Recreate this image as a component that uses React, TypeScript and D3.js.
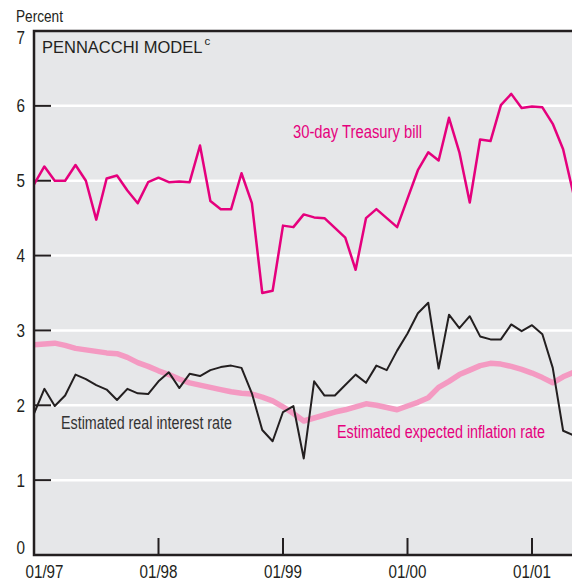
import * as d3 from 'd3'

// monthly observations, 01/1997 .. 05/2001
const TBILL = [
  4.95, 5.19, 5.0, 5.0, 5.21, 5.0, 4.48, 5.03, 5.07, 4.87, 4.7, 4.98,
  5.04, 4.98, 4.99, 4.98, 5.47, 4.73, 4.62, 4.62, 5.1, 4.7, 3.5, 3.53,
  4.4, 4.38, 4.55, 4.51, 4.5, 4.37, 4.24, 3.81, 4.5, 4.62, 4.5, 4.38,
  4.76, 5.14, 5.38, 5.27, 5.84, 5.38, 4.71, 5.55, 5.53, 6.01, 6.16, 5.97,
  5.99, 5.98, 5.76, 5.42, 4.82
]

const REAL_RATE = [
  1.89, 2.22, 1.99, 2.13, 2.41, 2.35, 2.27, 2.21, 2.07, 2.22, 2.16, 2.15,
  2.32, 2.44, 2.23, 2.42, 2.39, 2.47, 2.51, 2.53, 2.5, 2.16, 1.67, 1.52,
  1.91, 1.99, 1.29, 2.32, 2.13, 2.13, 2.27, 2.41, 2.3, 2.53, 2.47, 2.73,
  2.96, 3.23, 3.37, 2.49, 3.21, 3.03, 3.19, 2.92, 2.88, 2.88, 3.08, 2.99,
  3.07, 2.95, 2.5, 1.66, 1.6
]

const EXP_INFLATION = [
  2.81, 2.82, 2.83, 2.8, 2.76, 2.74, 2.72, 2.7, 2.69, 2.64, 2.57, 2.52,
  2.46, 2.41, 2.35, 2.3, 2.27, 2.24, 2.21, 2.18, 2.16, 2.15, 2.11, 2.06,
  1.98, 1.89, 1.79, 1.83, 1.87, 1.91, 1.94, 1.98, 2.02, 2.0, 1.97, 1.94,
  1.99, 2.04, 2.1, 2.24, 2.32, 2.41, 2.47, 2.53, 2.56, 2.55, 2.52, 2.48,
  2.43, 2.37, 2.3, 2.38, 2.44
]

const X_TICKS = [0, 12, 24, 36, 48]
const X_TICK_LABELS = ['01/97', '01/98', '01/99', '01/00', '01/01']
const Y_TICKS = [0, 1, 2, 3, 4, 5, 6, 7]

const WIDTH = 572
const HEIGHT = 581
const LEFT = 34
const TOP = 31
const BOTTOM = 555
const RIGHT = 572

const FONT = '"Liberation Sans", Arial, sans-serif'
const MAGENTA = '#e5007d'
const LIGHT_PINK = '#f49ac2'
const DARK = '#231f20'

// condensed look: no narrow face installed, so squeeze regular glyphs
function Narrow({ width, ...props }: any) {
  return <text fontFamily={FONT} textLength={width} lengthAdjust="spacingAndGlyphs" {...props} />
}

export default function App() {
  const x = d3.scaleLinear().domain([0, 52]).range([LEFT, 573.5])
  const y = d3.scaleLinear().domain([0, 7]).range([BOTTOM, TOP])

  const line = d3.line<number>()
    .x((_, i) => x(i))
    .y(d => y(d))

  return (
    <svg width={WIDTH} height={HEIGHT} style={{ position: 'absolute', left: 0, top: 0 }}>
      <defs>
        <clipPath id="plot">
          <rect x={LEFT} y={TOP} width={RIGHT - LEFT} height={BOTTOM - TOP} />
        </clipPath>
      </defs>

      {/* plot background */}
      <rect x={LEFT} y={TOP} width={RIGHT - LEFT} height={BOTTOM - TOP} fill="#e6e7e9" />

      {/* grid lines */}
      {Y_TICKS.filter(t => t > 0 && t < 7).map(t => (
        <line key={t} x1={LEFT} x2={RIGHT} y1={y(t)} y2={y(t)} stroke="#fff" strokeWidth={2.5} />
      ))}

      {/* y ticks */}
      {Y_TICKS.filter(t => t > 0 && t < 7).map(t => (
        <line key={'yt' + t} x1={LEFT} x2={LEFT + 17} y1={y(t)} y2={y(t)} stroke={DARK} strokeWidth={2} />
      ))}

      {/* x ticks */}
      {X_TICKS.slice(1).map(t => (
        <line key={'xt' + t} x1={x(t)} x2={x(t)} y1={BOTTOM} y2={BOTTOM - 17} stroke={DARK} strokeWidth={2} />
      ))}

      <g clipPath="url(#plot)" fill="none" strokeLinejoin="round">
        <path d={line(EXP_INFLATION) ?? ''} stroke={LIGHT_PINK} strokeWidth={5.5} />
        <path d={line(REAL_RATE) ?? ''} stroke={DARK} strokeWidth={2} />
        <path d={line(TBILL) ?? ''} stroke={MAGENTA} strokeWidth={2.5} />
      </g>

      {/* frame */}
      <path
        d={`M${RIGHT},${TOP}H${LEFT}V${BOTTOM}H${RIGHT}`}
        fill="none"
        stroke={DARK}
        strokeWidth={2.5}
      />

      {/* y labels */}
      <Narrow x={16} y={22} width={47} fontSize={17} fill={DARK}>Percent</Narrow>
      {Y_TICKS.map(t => {
        let cy = y(t)
        if (t === 7) cy += 7
        if (t === 0) cy -= 7
        return (
          <Narrow key={'yl' + t} x={16.5} y={cy} dy="0.36em" width={8.5}
            fontSize={18} fill={DARK}>
            {t}
          </Narrow>
        )
      })}

      {/* x labels */}
      {X_TICKS.map((t, i) => {
        const cx = i === 0 ? x(t) + 10.5 : x(t)
        return (
          <Narrow key={'xl' + t} x={cx - 19} y={578} width={38}
            fontSize={18} fill={DARK}>
            {X_TICK_LABELS[i]}
          </Narrow>
        )
      })}

      {/* panel title */}
      <text x={42} y={53} fontFamily={FONT} fontSize={16.5} fill={DARK}>
        PENNACCHI MODEL
        <tspan dx={2} dy={-8} fontSize={11.5}>c</tspan>
      </text>

      {/* series labels */}
      <Narrow x={293} y={138} width={129} fontSize={17.5} fill={MAGENTA}>30-day Treasury bill</Narrow>
      <Narrow x={61} y={429} width={171} fontSize={17.5} fill="#333">Estimated real interest rate</Narrow>
      <Narrow x={337} y={438} width={208} fontSize={17.5} fill={MAGENTA}>Estimated expected inflation rate</Narrow>
    </svg>
  )
}
